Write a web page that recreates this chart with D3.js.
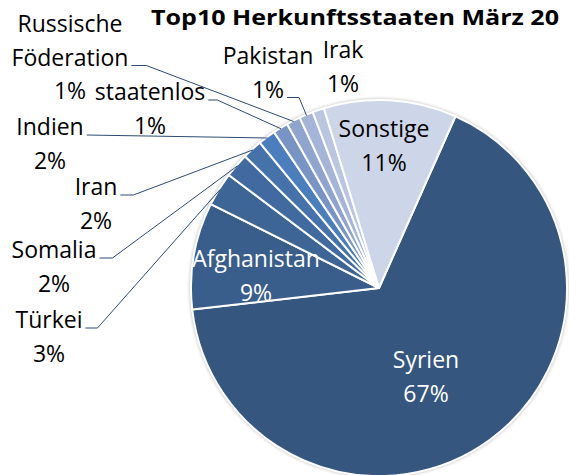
<!DOCTYPE html>
<html>
<head>
<meta charset="utf-8">
<script src="https://cdn.jsdelivr.net/npm/d3@7"></script>
<style>
body { margin: 0; background: #fff; }
text { font-family: "Open Sans", sans-serif; }
</style>
</head>
<body>
<div id="chart"></div>
<script>
// Data

var countries = ["Syrien", "Afghanistan", "Türkei", "Somalia", "Iran", "Indien",
    "staatenlos", "Russische Föderation", "Pakistan", "Irak", "Sonstige"];
var shares = [66.5, 9.2, 2.9, 2.1, 1.7, 1.5, 1.3, 1.2, 1.2, 1.0, 11.4];
var title = "Top10 Herkunftsstaaten März 20";

var colors = ["#34567f", "#3a5e8c", "#3d6596", "#416ba0", "#4572ab", "#4a7ebd",
    "#7894c5", "#8fa4cf", "#a5b5d9", "#b9c5e1", "#cdd6e9"];

////////////////////////////////////////////////////////////
//////////////////////// Set-Up ////////////////////////////
////////////////////////////////////////////////////////////
var width = 569, height = 475,
    cx = 379, cy = 288,
    radius = 188,
    lineH = 33.5,
    startDeg = 24;

// label layout: centre x, first baseline, line the leader leaves from, elbow length
var labelPos = [
    {x: 426, y: 368, fill: "#fff"},
    {x: 256, y: 267, fill: "#fff"},
    {x: 49,  y: 328, lead: 0, elbow: 12},
    {x: 54,  y: 258, lead: 0, elbow: 13},
    {x: 96,  y: 195, lead: 0, elbow: 13},
    {x: 50,  y: 135, lead: 0, elbow: 0},
    {x: 150, y: 100, lead: 0, elbow: 9},
    {x: 70,  y: 32,  lead: 1, elbow: 15},
    {x: 268, y: 64,  lead: 1, elbow: 12},
    {x: 343, y: 58},
    {x: 384, y: 137, fill: "#000"}
];

var svg = d3.select("#chart").append("svg")
    .attr("width", width)
    .attr("height", height);

var defs = svg.append("defs");
defs.append("filter").attr("id", "shadow")
    .attr("x", "-10%").attr("y", "-10%").attr("width", "120%").attr("height", "120%")
  .append("feGaussianBlur").attr("stdDeviation", 1.5);

////////////////////////////////////////////////////////////
/////////////////////// Pie ////////////////////////////////
////////////////////////////////////////////////////////////
var a0 = startDeg * Math.PI / 180;
var pie = d3.pie().sort(null).startAngle(a0).endAngle(a0 + 2 * Math.PI);
var arcs = pie(shares);

var arc = d3.arc().innerRadius(0).outerRadius(radius);
var edge = d3.arc().innerRadius(radius - 1).outerRadius(radius - 1);

var g = svg.append("g").attr("transform", "translate(" + cx + "," + cy + ")");

g.append("circle")
    .attr("r", radius + 1.5)
    .attr("fill", "#c8c8c8")
    .attr("filter", "url(#shadow)");

g.selectAll("path.slice")
    .data(arcs)
    .enter().append("path")
    .attr("class", "slice")
    .attr("d", arc)
    .attr("fill", function(d, i) { return colors[i]; })
    .attr("stroke", "#fff")
    .attr("stroke-width", 2)
    .attr("stroke-linejoin", "round");

////////////////////////////////////////////////////////////
/////////////////////// Labels /////////////////////////////
////////////////////////////////////////////////////////////
function pct(v) { return Math.round(v) + "%"; }

arcs.forEach(function(d, i) {
    var p = labelPos[i];
    var lines = countries[i] === "Russische Föderation" ? ["Russische", "Föderation"] : [countries[i]];
    lines = lines.concat([pct(shares[i])]);

    var t = svg.append("text")
        .attr("text-anchor", "middle")
        .attr("font-size", 23)
        .attr("fill", p.fill || "#000");
    var spans = lines.map(function(s, k) {
        return t.append("tspan")
            .attr("x", p.x)
            .attr("y", p.y + k * lineH)
            .text(s);
    });

    if (p.lead === undefined) return;
    var w = spans[p.lead].node().getComputedTextLength();
    var x1 = p.x + w / 2 + 3,
        y1 = p.y + p.lead * lineH,
        x2 = x1 + p.elbow,
        c = edge.centroid(d);
    svg.append("path")
        .attr("d", "M" + x1 + "," + y1 + "H" + x2 + "L" + (cx + c[0]) + "," + (cy + c[1]))
        .attr("fill", "none")
        .attr("stroke", "#2d4b75")
        .attr("stroke-width", 1);
});

// title, running right up to the edge like the original
svg.append("text")
    .attr("x", 151)
    .attr("y", 25)
    .attr("font-size", 22)
    .attr("font-weight", "bold")
    .attr("textLength", 408)
    .attr("lengthAdjust", "spacingAndGlyphs")
    .text(title);
</script>
</body>
</html>
